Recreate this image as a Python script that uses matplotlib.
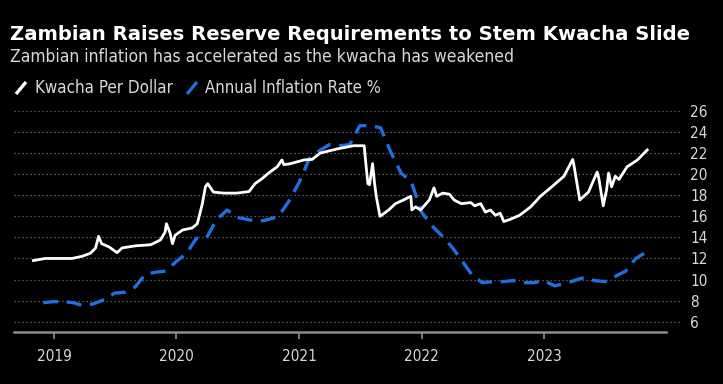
import matplotlib
matplotlib.use("Agg")
import matplotlib.pyplot as plt
from matplotlib.lines import Line2D
import pandas as pd

# ---------------- data ----------------
kwacha_dates = [
    "2018-11-01", "2018-12-06", "2019-01-15", "2019-02-24", "2019-03-25", "2019-04-20",
    "2019-05-05", "2019-05-14", "2019-05-23", "2019-06-14", "2019-07-08", "2019-07-23",
    "2019-09-01", "2019-10-16", "2019-11-14", "2019-11-28", "2019-12-02", "2019-12-13",
    "2019-12-20", "2019-12-28", "2020-01-19", "2020-02-17", "2020-03-03", "2020-03-18",
    "2020-03-27", "2020-04-03", "2020-04-20", "2020-05-21", "2020-06-28", "2020-08-04",
    "2020-08-22", "2020-09-13", "2020-10-01", "2020-10-27", "2020-11-10", "2020-11-16",
    "2020-12-06", "2021-01-15", "2021-02-08", "2021-03-04", "2021-04-24", "2021-06-12",
    "2021-07-13", "2021-07-18", "2021-07-24", "2021-07-29", "2021-08-07", "2021-08-13",
    "2021-08-18", "2021-08-29", "2021-09-24", "2021-10-14", "2021-11-07", "2021-11-29",
    "2021-12-02", "2021-12-13", "2021-12-28", "2022-01-23", "2022-02-06", "2022-02-14",
    "2022-03-04", "2022-03-24", "2022-04-07", "2022-04-28", "2022-05-27", "2022-06-07",
    "2022-06-25", "2022-07-09", "2022-07-24", "2022-08-08", "2022-08-22", "2022-09-02",
    "2022-09-20", "2022-10-19", "2022-11-21", "2022-12-20", "2023-01-19", "2023-02-28",
    "2023-03-26", "2023-03-29", "2023-04-16", "2023-05-12", "2023-06-07", "2023-06-12",
    "2023-06-25", "2023-07-05", "2023-07-11", "2023-07-20", "2023-07-31", "2023-08-11",
    "2023-09-04", "2023-10-05", "2023-11-03",
]
kwacha_per_dollar = [
    11.8, 12.0, 12.0, 12.0, 12.2, 12.5,
    13.0, 14.1, 13.4, 13.1, 12.55, 13.0,
    13.2, 13.3, 13.75, 14.5, 15.3, 14.4,
    13.4, 14.2, 14.7, 14.9, 15.3, 17.2,
    18.8, 19.1, 18.3, 18.2, 18.2, 18.35,
    19.1, 19.6, 20.1, 20.7, 21.35, 20.9,
    21.0, 21.35, 21.4, 22.0, 22.4, 22.7,
    22.7, 21.0, 19.1, 19.0, 21.0, 19.1,
    17.9, 16.0, 16.6, 17.2, 17.55, 17.9,
    16.6, 16.9, 16.6, 17.55, 18.7, 17.9,
    18.2, 18.1, 17.55, 17.2, 17.3, 17.0,
    17.2, 16.4, 16.6, 16.1, 16.3, 15.5,
    15.7, 16.1, 16.9, 17.9, 18.7, 19.8,
    21.4, 21.0, 17.55, 18.3, 20.2, 19.6,
    17.0, 18.5, 20.1, 18.8, 19.8, 19.5,
    20.7, 21.35, 22.3,
]

inflation_start = "2018-11-30"
inflation_rate = [
    7.8, 7.9,
    7.9, 7.8, 7.5, 7.7, 8.1, 8.7, 8.8, 9.3, 10.5, 10.7, 10.8, 11.7,
    12.5, 13.9, 14.0, 15.7, 16.6, 15.9, 15.7, 15.5, 15.7, 16.0, 17.4, 19.2,
    21.5, 22.2, 22.8, 22.7, 22.8, 24.6, 24.6, 24.4, 22.1, 20.1, 19.3, 16.4,
    15.1, 14.2, 13.1, 11.8, 10.4, 9.7, 9.8, 9.8, 9.9, 9.7, 9.7, 9.9,
    9.4, 9.6, 9.9, 10.2, 9.9, 9.8, 10.3, 10.8, 12.0, 12.6,
]

y_ticks = [6, 8, 10, 12, 14, 16, 18, 20, 22, 24, 26]
x_tick_years = [2019, 2020, 2021, 2022, 2023]

title = "Zambian Raises Reserve Requirements to Stem Kwacha Slide"
subtitle = "Zambian inflation has accelerated as the kwacha has weakened"
legend_labels = ["Kwacha Per Dollar", "Annual Inflation Rate %"]

# ---------------- style ----------------
BG = "black"
WHITE = "#ffffff"
BLUE = "#1f6fe0"
GRID = "#707070"
AXIS = "#8c8c8c"
TXT = "#d9d9d9"
FAM = ["DejaVu Sans"]
COND = dict(family=FAM, stretch="condensed")

W, H = 723, 384
fig = plt.figure(figsize=(W / 100, H / 100), dpi=100, facecolor=BG)
ax = fig.add_axes([14 / W, 1 - 332 / H, (666 - 14) / W, (332 - 108) / H])
ax.set_facecolor(BG)

kd = pd.to_datetime(kwacha_dates)
idates = pd.date_range(inflation_start, periods=len(inflation_rate), freq="ME")

ax.plot(kd, kwacha_per_dollar, color=WHITE, lw=2.0, solid_joinstyle="round", zorder=4)
ax.plot(idates, inflation_rate, color=BLUE, lw=2.4, dashes=(4.5, 2.6), zorder=3)

ax.set_xlim(pd.Timestamp("2018-09-04"), pd.Timestamp("2023-12-29"))
ax.set_ylim(5.02, 26.28)

for v in y_ticks:
    ax.axhline(v, xmin=0, xmax=1.0215, color=GRID, lw=0.9, ls=(0, (1, 2.2)),
               clip_on=False, zorder=1)

ax.yaxis.tick_right()
ax.set_yticks(y_ticks)
ax.set_yticklabels([str(v) for v in y_ticks])
ax.tick_params(axis="y", length=0, pad=17.5, labelsize=11, labelcolor=TXT)

ax.set_xticks([pd.Timestamp(f"{y}-01-01") for y in x_tick_years])
ax.set_xticklabels([str(y) for y in x_tick_years])
ax.tick_params(axis="x", length=5, width=1.2, color=AXIS, pad=7,
               labelsize=11, labelcolor=TXT, direction="out")

for lab in ax.get_xticklabels() + ax.get_yticklabels():
    lab.set_family(FAM)
    lab.set_stretch("condensed")

for s in ["top", "left", "right"]:
    ax.spines[s].set_visible(False)
ax.spines["bottom"].set_color(AXIS)
ax.spines["bottom"].set_linewidth(1.8)

# ---------------- texts ----------------
fig.text(10 / W, 1 - 35 / H, title, color=WHITE, fontsize=14.1, fontweight="bold",
         family=FAM, va="center", ha="left")
fig.text(10 / W, 1 - 57 / H, subtitle, color=TXT, fontsize=12.5,
         va="center", ha="left", **COND)

# legend
ly = 1 - 88 / H
fig.add_artist(Line2D([16 / W, 26 / W], [ly - 6 / H, ly + 6 / H], color=WHITE, lw=2.4,
                      solid_capstyle="butt", transform=fig.transFigure))
fig.text(35 / W, ly, legend_labels[0], color=TXT, fontsize=12.2,
         va="center", ha="left", **COND)
fig.add_artist(Line2D([187 / W, 197 / W], [ly - 6 / H, ly + 6 / H], color=BLUE, lw=2.4,
                      solid_capstyle="butt", transform=fig.transFigure))
fig.text(205 / W, ly, legend_labels[1], color=TXT, fontsize=12,
         va="center", ha="left", **COND)

fig.savefig("out.png", dpi=100, facecolor=BG)
